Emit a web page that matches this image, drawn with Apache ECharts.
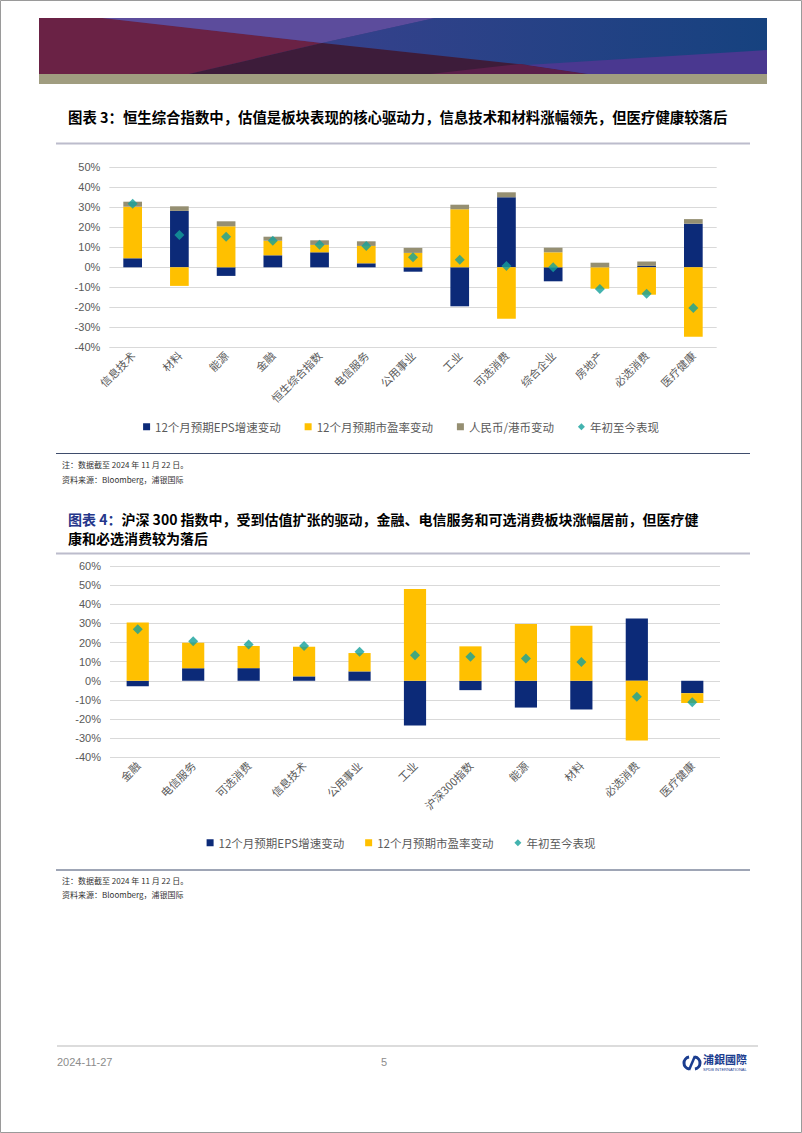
<!DOCTYPE html>
<html><head><meta charset="utf-8">
<script src="https://cdn.jsdelivr.net/npm/echarts@6/dist/echarts.min.js"></script>
<style>html,body{margin:0;padding:0;background:#fff}#c{width:802px;height:1133px}</style>
</head><body><div id="c"></div>
<script>
// ---- Chart 1 data (恒生综合指数) ----
const cats1 = ['信息技术','材料','能源','金融','恒生综合指数','电信服务','公用事业','工业','可选消费','综合企业','房地产','必选消费','医疗健康'];
const eps1  = [4.5, 28.2, -4.3, 6.0, 7.5, 2.0, -2.2, -19.5, 35.0, -7.0, 0.0, 0.7, 21.8];
const pe1   = [25.8, -9.3, 20.5, 7.3, 3.7, 8.7, 7.2, 29.0, -25.7, 7.5, -10.7, -13.7, -34.7];
const fx1   = [2.5, 2.3, 2.5, 2.0, 2.3, 2.3, 2.5, 2.3, 2.5, 2.3, 2.3, 2.2, 2.3];
const ytd1  = [31.8, 16.2, 15.3, 13.3, 11.3, 10.7, 5.0, 3.8, 0.7, 0.0, -10.8, -13.2, -20.3];
// ---- Chart 2 data (沪深300) ----
const cats2 = ['金融','电信服务','可选消费','信息技术','公用事业','工业','沪深300指数','能源','材料','必选消费','医疗健康'];
const eps2  = [-2.8, 6.5, 6.6, 2.3, 4.9, -23.4, -4.9, -14.0, -15.0, 32.6, -6.5];
const pe2   = [30.5, 13.4, 11.6, 15.5, 9.6, 48.0, 18.0, 29.7, 28.8, -31.2, -5.1];
const ytd2  = [27.0, 20.6, 19.0, 18.2, 15.2, 13.3, 12.6, 11.7, 9.8, -8.4, -11.2];
// ---- names / texts ----
const nEps = '12个月预期EPS增速变动', nPe = '12个月预期市盈率变动', nFx = '人民币/港币变动', nYtd = '年初至今表现';
const title1 = '图表 3：恒生综合指数中，估值是板块表现的核心驱动力，信息技术和材料涨幅领先，但医疗健康较落后';
const title2a = '图表 4：', title2b = '沪深 300 指数中，受到估值扩张的驱动，金融、电信服务和可选消费板块涨幅居前，但医疗健';
const title2c = '康和必选消费较为落后';
const note1 = '注：数据截至 2024 年 11 月 22 日。';
const note2 = '资料来源：Bloomberg，浦银国际';

const CJK = '"Noto Sans CJK SC", sans-serif';
const SANS = '"Liberation Sans", Arial, sans-serif';
const NAVY = '#0c2a78', YEL = '#ffc000', GRAY = '#958f72', TEAL = '#14a09b';

const chart = echarts.init(document.getElementById('c'), null, {renderer: 'svg'});

function yAx(grid, min, max) {
  return {type: 'value', gridIndex: grid, min: min, max: max, interval: 10,
    axisLine: {show: false}, axisTick: {show: false},
    axisLabel: {formatter: '{value}%', color: '#595959', fontSize: 11, fontFamily: SANS, margin: 9},
    splitLine: {lineStyle: {color: '#d9d9d9', width: 1}}};
}
function xAx(grid, cats) {
  return {type: 'category', gridIndex: grid, data: cats,
    axisLine: {show: false, onZero: false}, axisTick: {show: false},
    axisLabel: {rotate: 45, interval: 0, color: '#595959', fontSize: 11, fontFamily: CJK, margin: 6}};
}
function bar(name, data, color, xi) {
  return {name: name, type: 'bar', stack: 's' + xi, xAxisIndex: xi, yAxisIndex: xi, data: data,
    barWidth: '40%', itemStyle: {color: color}, emphasis: {disabled: true}};
}
function dia(data, xi) {
  return {name: nYtd, type: 'scatter', xAxisIndex: xi, yAxisIndex: xi, data: data, z: 5,
    symbol: 'diamond', symbolSize: 10, itemStyle: {color: TEAL}};
}

function txt(x, y, text, size, color, weight, family, align) {
  return {type: 'text', x: x, y: y, silent: true, style: {text: text, fill: color, fontSize: size,
    fontWeight: weight || 'normal', fontFamily: family || CJK, textAlign: align || 'left',
    textVerticalAlign: 'middle', verticalAlign: 'middle'}};
}
function hline(x1, x2, y, color, w) {
  return {type: 'line', silent: true, shape: {x1: x1, y1: y, x2: x2, y2: y}, style: {stroke: color, lineWidth: w}};
}
function poly(pts, color) {
  return {type: 'polygon', silent: true, shape: {points: pts}, style: {fill: color}};
}

const graphics = [
  {type: 'rect', silent: true, shape: {x: 0.5, y: 0.5, width: 801, height: 1132}, style: {fill: 'none', stroke: '#9a9a9a', lineWidth: 1}},
  // header band
  {type: 'rect', silent: true, shape: {x: 39, y: 18, width: 728, height: 56},
    style: {fill: new echarts.graphic.LinearGradient(0, 0, 1, 0, [{offset: 0, color: '#6c2246'}, {offset: 0.5, color: '#3d3f88'}, {offset: 1, color: '#17427e'}])}},
  poly([[39,18],[102,18],[322,43],[189,74],[39,74]], '#6a2245'),
  poly([[102,18],[435,18],[322,43]], '#5c4c9c'),
  poly([[435,18],[767,18],[767,50],[527,65],[322,43]], new echarts.graphic.LinearGradient(0, 0, 1, 0, [{offset: 0, color: '#36418c'}, {offset: 1, color: '#16427f'}])),
  poly([[322,43],[527,65],[588,74],[189,74]], '#3d1c3a'),
  poly([[430,74],[520,64],[588,74]], '#5a1f4a'),
  poly([[527,65],[767,50],[767,74],[588,74]], '#4a3890'),
  {type: 'rect', silent: true, shape: {x: 39, y: 74, width: 728, height: 10}, style: {fill: '#a09d80'}},
  // chart 1 title
  txt(68, 116, title1, 14.4, '#000', 'bold'),
  hline(56, 750, 143.5, '#bcbccc', 2),
  // chart 1 notes
  hline(56, 750, 453.5, '#3f4d6c', 1),
  txt(62, 464, note1, 8, '#333'),
  txt(62, 479, note2, 8, '#333'),
  // chart 2 title
  {type: 'text', x: 68, y: 519, silent: true, style: {text: '{b|' + title2a + '}{k|' + title2b + '}',
    fontSize: 14, fontWeight: 'bold', fontFamily: CJK, textVerticalAlign: 'middle', verticalAlign: 'middle',
    rich: {b: {fill: '#24368a', fontSize: 14, fontWeight: 'bold', fontFamily: CJK}, k: {fill: '#000', fontSize: 14, fontWeight: 'bold', fontFamily: CJK}}}},
  txt(68, 538, title2c, 14, '#000', 'bold'),
  hline(56, 750, 553.5, '#bcbccc', 2),
  // chart 2 notes
  hline(56, 750, 870, '#3f4d6c', 1),
  txt(62, 880, note1, 8, '#333'),
  txt(62, 894, note2, 8, '#333'),
  // footer
  hline(57, 758, 1046, '#d0d0d0', 1.5),
  txt(57, 1062, '2024-11-27', 11, '#8c8c8c', 'normal', SANS),
  txt(384, 1062, '5', 11, '#8c8c8c', 'normal', SANS, 'center'),
  {type: 'arc', silent: true, shape: {cx: 690, cy: 1063, r: 6, startAngle: Math.PI * 0.55, endAngle: Math.PI * 1.45}, style: {stroke: '#1b3d8f', lineWidth: 3, fill: 'none'}},
  {type: 'arc', silent: true, shape: {cx: 694, cy: 1063, r: 6, startAngle: -Math.PI * 0.45, endAngle: Math.PI * 0.45}, style: {stroke: '#1b3d8f', lineWidth: 3, fill: 'none'}},
  {type: 'line', silent: true, shape: {x1: 689, y1: 1070, x2: 695, y2: 1056}, style: {stroke: '#1b3d8f', lineWidth: 2.5}},
  txt(703, 1059, '浦銀國際', 11, '#1b3d8f', 'bold'),
  txt(703, 1069, 'SPDB INTERNATIONAL', 4, '#1b3d8f', 'normal', SANS)
];

const option = {
  backgroundColor: '#fff',
  animation: false,
  grid: [
    {left: 109.3, right: 85.3, top: 167.3, height: 180, containLabel: false},
    {left: 110, right: 82, top: 566, height: 191.3, containLabel: false}
  ],
  xAxis: [xAx(0, cats1), xAx(1, cats2)],
  yAxis: [yAx(0, -40, 50), yAx(1, -40, 60)],
  legend: [
    {left: 'center', top: 416, itemWidth: 7, itemHeight: 7, itemGap: 24, selectedMode: false,
      textStyle: {color: '#595959', fontSize: 11.5, fontFamily: CJK},
      data: [{name: nEps, icon: 'rect'}, {name: nPe, icon: 'rect'}, {name: nFx, icon: 'rect'}, {name: nYtd, icon: 'diamond'}]},
    {left: 'center', top: 832, itemWidth: 7, itemHeight: 7, itemGap: 21, selectedMode: false,
      textStyle: {color: '#595959', fontSize: 11.5, fontFamily: CJK},
      data: [{name: nEps, icon: 'rect'}, {name: nPe, icon: 'rect'}, {name: nYtd, icon: 'diamond'}]}
  ],
  series: [
    bar(nEps, eps1, NAVY, 0), bar(nPe, pe1, YEL, 0), bar(nFx, fx1, GRAY, 0), dia(ytd1, 0),
    bar(nEps, eps2, NAVY, 1), bar(nPe, pe2, YEL, 1), dia(ytd2, 1)
  ],
  graphic: graphics
};
chart.setOption(option);
</script></body></html>
